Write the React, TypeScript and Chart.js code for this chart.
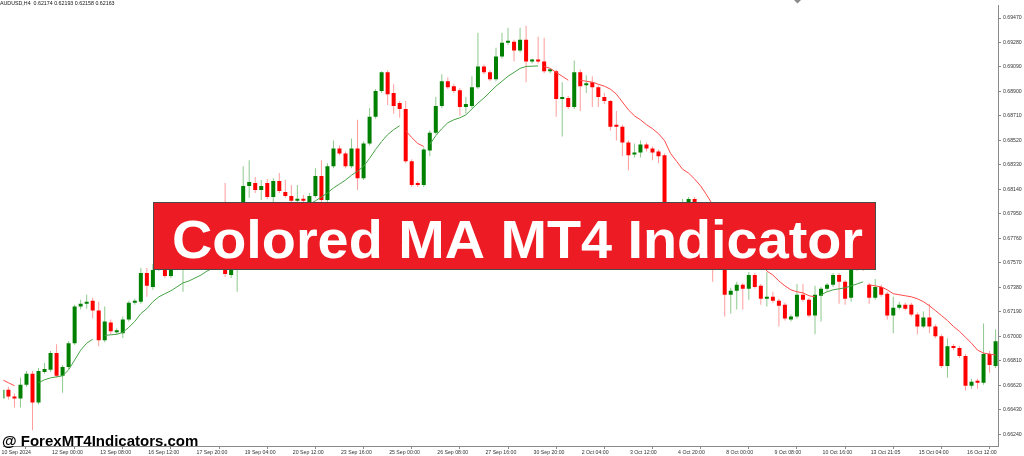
import React, { useEffect, useRef } from "react";
import { Chart, registerables } from "chart.js";

Chart.register(...registerables);

const N = null;

const opens = [
  0.66516,0.66585,0.66532,0.66516,0.66624,0.66708,0.66486,0.66723,0.66739,0.66869,
  0.66693,0.66762,0.66946,0.67230,0.67253,0.67276,0.67199,0.66969,0.67107,0.67030,
  0.67023,0.67130,0.67260,0.67268,0.67491,0.67383,0.67514,0.67590,0.67468,0.67606,
  0.67560,0.67729,0.67759,0.67698,0.67790,0.67836,0.67744,0.67821,0.67475,0.67613,
  0.67729,0.68166,0.68189,0.68135,0.68189,0.68081,0.68204,0.68120,0.68089,0.68051,
  0.68066,0.68005,0.68089,0.68243,0.68058,0.68319,0.68457,0.68419,0.68319,0.68457,
  0.68227,0.68496,0.68703,0.68903,0.69048,0.68887,0.68810,0.68764,0.68358,0.68189,
  0.68174,0.68442,0.68580,0.68787,0.68979,0.68941,0.68910,0.68780,0.68787,0.68933,
  0.69094,0.69048,0.68995,0.69171,0.69278,0.69286,0.69217,0.69301,0.69133,0.69140,
  0.69133,0.69056,0.69056,0.68841,0.68849,0.68780,0.69048,0.68949,0.68972,0.68933,
  0.68856,0.68826,0.68634,0.68626,0.68503,0.68411,0.68427,0.68488,0.68457,0.68434,
  0.68404,0.67844,0.67920,0.67867,0.67974,0.68066,0.67920,0.67767,0.67652,0.67560,
  0.67613,0.67322,0.67353,0.67399,0.67368,0.67475,0.67391,0.67291,0.67306,0.67276,
  0.67245,0.67130,0.67153,0.67322,0.67283,0.67161,0.67314,0.67368,0.67399,0.67475,
  0.67422,0.67299,0.67560,0.67537,0.67399,0.67299,0.67383,0.67330,0.67161,0.67222,
  0.67245,0.67245,0.67168,0.67076,0.67145,0.67076,0.67000,0.66769,0.66923,0.66908,
  0.66846,0.66616,0.66654,0.66639,0.66862,0.66769,
];

const highs = [
  0.66608,0.66608,0.66555,0.66677,0.66731,0.66731,0.66754,0.66792,0.66885,0.66938,
  0.66777,0.66961,0.67245,0.67283,0.67322,0.67299,0.67268,0.67230,0.67130,0.67061,
  0.67153,0.67276,0.67291,0.67529,0.67529,0.67560,0.67613,0.67637,0.67652,0.67667,
  0.67759,0.67805,0.67790,0.67821,0.67882,0.67867,0.67851,0.68189,0.67652,0.67759,
  0.68319,0.68365,0.68235,0.68212,0.68220,0.68227,0.68266,0.68212,0.68174,0.68174,
  0.68097,0.68112,0.68304,0.68365,0.68342,0.68519,0.68481,0.68434,0.68534,0.68680,
  0.68511,0.68772,0.68918,0.69056,0.69064,0.68956,0.68826,0.68826,0.68373,0.68204,
  0.68465,0.68596,0.68856,0.69033,0.69010,0.68956,0.68926,0.68856,0.69018,0.69355,
  0.69110,0.69064,0.69240,0.69355,0.69394,0.69301,0.69394,0.69409,0.69156,0.69325,
  0.69317,0.69079,0.69071,0.68972,0.68864,0.69140,0.69071,0.69025,0.69018,0.68949,
  0.68887,0.68833,0.68749,0.68642,0.68519,0.68496,0.68519,0.68503,0.68473,0.68450,
  0.68419,0.67974,0.67943,0.68066,0.68081,0.68081,0.67943,0.67805,0.67690,0.67652,
  0.67637,0.67376,0.67422,0.67414,0.67498,0.67491,0.67406,0.67498,0.67345,0.67291,
  0.67260,0.67168,0.67406,0.67406,0.67299,0.67391,0.67383,0.67414,0.67491,0.67491,
  0.67437,0.67590,0.67606,0.67560,0.67414,0.67445,0.67399,0.67345,0.67306,0.67268,
  0.67260,0.67260,0.67184,0.67191,0.67253,0.67092,0.67015,0.66984,0.66938,0.66923,
  0.66862,0.66670,0.66670,0.67099,0.66885,0.67053,
];

const lows = [
  0.66501,0.66508,0.66447,0.66447,0.66608,0.66271,0.66470,0.66708,0.66723,0.66677,
  0.66562,0.66746,0.66931,0.67207,0.67214,0.67138,0.66923,0.66954,0.67015,0.67015,
  0.66984,0.67115,0.67245,0.67253,0.67306,0.67360,0.67506,0.67452,0.67452,0.67529,
  0.67345,0.67683,0.67652,0.67667,0.67759,0.67713,0.67729,0.67460,0.67452,0.67345,
  0.67698,0.68074,0.68112,0.68058,0.68066,0.68020,0.68112,0.68074,0.68035,0.68035,
  0.68028,0.67974,0.68074,0.68020,0.68043,0.68304,0.68404,0.68304,0.68304,0.68135,
  0.68212,0.68481,0.68688,0.68887,0.68795,0.68726,0.68695,0.68342,0.68158,0.68158,
  0.68158,0.68396,0.68565,0.68772,0.68918,0.68887,0.68711,0.68726,0.68772,0.68918,
  0.69033,0.68979,0.68979,0.69156,0.69263,0.69133,0.69202,0.68972,0.69117,0.69117,
  0.69041,0.69041,0.68703,0.68550,0.68764,0.68764,0.68749,0.68887,0.68780,0.68780,
  0.68803,0.68596,0.68519,0.68396,0.68289,0.68388,0.68388,0.68434,0.68365,0.68342,
  0.67790,0.67805,0.67821,0.67836,0.67943,0.67882,0.67729,0.67590,0.67422,0.67514,
  0.67153,0.67176,0.67207,0.67207,0.67283,0.67368,0.67245,0.67230,0.67260,0.67076,
  0.67122,0.67115,0.67138,0.67268,0.67145,0.67015,0.67115,0.67353,0.67383,0.67253,
  0.67245,0.67268,0.67506,0.67506,0.67253,0.67283,0.67306,0.67130,0.67023,0.67207,
  0.67199,0.67153,0.67015,0.67061,0.67023,0.66984,0.66754,0.66677,0.66892,0.66831,
  0.66578,0.66593,0.66593,0.66624,0.66716,0.66754,
];

const closes = [
  0.66585,0.66532,0.66516,0.66624,0.66708,0.66486,0.66731,0.66746,0.66869,0.66693,
  0.66762,0.66946,0.67230,0.67253,0.67268,0.67199,0.66969,0.67115,0.67038,0.67046,
  0.67130,0.67260,0.67268,0.67491,0.67391,0.67514,0.67590,0.67468,0.67606,0.67560,
  0.67729,0.67759,0.67698,0.67790,0.67836,0.67744,0.67821,0.67483,0.67613,0.67729,
  0.68166,0.68197,0.68135,0.68166,0.68081,0.68204,0.68128,0.68089,0.68051,0.68066,
  0.68051,0.68089,0.68243,0.68058,0.68319,0.68457,0.68419,0.68319,0.68457,0.68227,
  0.68496,0.68703,0.68903,0.69048,0.68879,0.68787,0.68764,0.68358,0.68174,0.68174,
  0.68450,0.68580,0.68787,0.68979,0.68933,0.68903,0.68780,0.68803,0.68933,0.69094,
  0.69048,0.68995,0.69171,0.69278,0.69286,0.69217,0.69301,0.69133,0.69140,0.69133,
  0.69056,0.69064,0.68841,0.68849,0.68780,0.69048,0.68941,0.68964,0.68933,0.68856,
  0.68826,0.68626,0.68626,0.68503,0.68404,0.68427,0.68488,0.68457,0.68427,0.68396,
  0.67844,0.67920,0.67867,0.67974,0.68066,0.67920,0.67767,0.67652,0.67560,0.67613,
  0.67322,0.67353,0.67399,0.67368,0.67475,0.67383,0.67291,0.67306,0.67276,0.67237,
  0.67138,0.67153,0.67322,0.67283,0.67161,0.67322,0.67368,0.67399,0.67475,0.67422,
  0.67291,0.67560,0.67537,0.67514,0.67299,0.67383,0.67322,0.67161,0.67222,0.67245,
  0.67214,0.67168,0.67076,0.67145,0.67076,0.67000,0.66769,0.66923,0.66908,0.66846,
  0.66616,0.66647,0.66639,0.66862,0.66777,0.66961,
];

// Colored MA: rising part (green) and falling part (red)
const maUp = [
  N,N,N,N,N,N,0.66639,0.66662,0.66677,0.66685,
  0.66693,0.66739,0.66815,0.66892,0.66946,0.66977,N,0.67007,0.67011,0.67015,
  0.67030,0.67069,0.67115,0.67176,0.67214,0.67268,0.67306,0.67330,0.67353,0.67383,
  0.67414,0.67429,0.67452,0.67475,0.67506,0.67529,0.67560,0.67590,0.67621,0.67652,
  0.67690,0.67729,0.67775,0.67821,0.67867,0.67905,0.67943,0.67974,0.67997,0.68012,
  0.68020,0.68024,0.68051,0.68081,0.68112,0.68151,0.68181,0.68212,0.68250,0.68281,
  0.68319,0.68381,0.68450,0.68511,0.68565,0.68603,0.68634,N,N,N,
  N,0.68488,0.68557,0.68611,0.68657,0.68680,0.68695,0.68718,0.68764,0.68810,
  0.68849,0.68895,0.68941,0.68979,0.69018,0.69048,0.69079,0.69094,0.69096,0.69098,
  N,N,N,N,N,N,N,N,N,N,
  N,N,N,N,N,N,N,N,N,N,
  N,N,N,N,N,N,N,N,N,N,
  N,N,N,N,N,N,N,N,N,N,
  N,N,N,N,N,N,0.67322,0.67345,0.67360,0.67368,
  0.67376,0.67391,0.67406,0.67422,N,N,N,N,N,N,
  N,N,N,N,N,N,N,N,N,N,
  N,N,N,N,N,N,
];

const maDown = [
  0.66662,0.66639,0.66616,N,N,N,N,N,N,N,
  N,N,N,N,N,N,N,N,N,N,
  N,N,N,N,N,N,N,N,N,N,
  N,N,N,N,N,N,N,N,N,N,
  N,N,N,N,N,N,N,N,N,N,
  N,N,N,N,N,N,N,N,N,N,
  N,N,N,N,N,N,N,0.68596,0.68542,0.68496,
  0.68473,N,N,N,N,N,N,N,N,N,
  N,N,N,N,N,N,N,N,N,N,
  0.69094,0.69079,0.69048,0.69018,0.68987,N,0.68987,0.68979,0.68972,0.68956,
  0.68941,0.68918,0.68879,0.68818,0.68757,0.68711,0.68680,0.68642,0.68611,0.68572,
  0.68519,0.68419,0.68358,0.68296,0.68266,0.68220,0.68166,0.68097,0.68020,0.67966,
  0.67913,0.67859,0.67805,0.67752,0.67690,0.67629,0.67567,0.67506,0.67475,0.67429,
  0.67391,0.67360,0.67345,0.67337,0.67314,0.67306,N,N,N,N,
  N,N,N,N,0.67399,0.67391,0.67383,0.67360,0.67330,0.67322,
  0.67314,0.67306,0.67291,0.67268,0.67237,0.67199,0.67161,0.67122,0.67076,0.67038,
  0.66992,0.66946,0.66892,0.66869,0.66862,0.66854,
];

const yTicks = [
  0.66240,0.66430,0.66620,0.66810,0.67000,0.67190,0.67380,0.67570,0.67760,
  0.67950,0.68140,0.68330,0.68520,0.68710,0.68900,0.69090,0.69280,0.69470,
];

const xTickBars = [-0.4,8,16,24,32,40,48,56,64,72,80,88,96,104,112,120,128,136,144,152,160];
const xTickLabels = [
  "10 Sep 2024","12 Sep 00:00","13 Sep 08:00","16 Sep 12:00","17 Sep 20:00",
  "19 Sep 04:00","20 Sep 12:00","23 Sep 16:00","25 Sep 00:00","26 Sep 08:00",
  "27 Sep 16:00","30 Sep 20:00","2 Oct 04:00","3 Oct 12:00","4 Oct 20:00",
  "8 Oct 00:00","9 Oct 08:00","10 Oct 16:00","13 Oct 21:05","15 Oct 04:00","16 Oct 12:00",
];

const headerText = "AUDUSD,H4  0.62174 0.62193 0.62158 0.62163";
const bannerText = "Colored MA MT4 Indicator";
const watermarkText = "@ ForexMT4Indicators.com";

const FAMILY = '"Liberation Sans", Arial, sans-serif';
const BULL = "#008000";
const BEAR = "#ff0000";
const BULL_WICK = "#8ec98e";
const BEAR_WICK = "#ff9c9c";
const MA_UP = "#46a346";
const MA_DOWN = "#ff4a4a";
const AXIS = "#8a8a8a";

export default function App() {
  const ref = useRef<HTMLCanvasElement>(null);

  useEffect(() => {
    const canvas = ref.current;
    if (!canvas) return;
    const idx = opens.map((_, i) => i);
    const bull = (i: number) => closes[i] >= opens[i];

    const overlay = {
      id: "overlay",
      afterDraw(chart: any) {
        const ctx = chart.ctx as CanvasRenderingContext2D;
        ctx.save();
        ctx.fillStyle = "#111";
        ctx.font = `5.3px ${FAMILY}`;
        ctx.textAlign = "left";
        ctx.textBaseline = "middle";
        ctx.fillText(headerText, 0, 4);

        ctx.fillStyle = "#8a8a8a";
        ctx.beginPath();
        ctx.moveTo(794, 0);
        ctx.lineTo(801, 0);
        ctx.lineTo(797.5, 3.5);
        ctx.closePath();
        ctx.fill();

        ctx.fillStyle = "#ED1C24";
        ctx.fillRect(153, 202, 723, 68);
        ctx.strokeStyle = "#4a4a4a";
        ctx.lineWidth = 1;
        ctx.strokeRect(153.5, 202.5, 722, 67);

        ctx.font = `bold 54px ${FAMILY}`;
        const w = ctx.measureText(bannerText).width;
        ctx.translate(517.5, 258);
        ctx.scale(691 / w, 1);
        ctx.textAlign = "center";
        ctx.textBaseline = "alphabetic";
        ctx.fillStyle = "#ffffff";
        ctx.fillText(bannerText, 0, 0);
        ctx.restore();

        ctx.save();
        ctx.font = `bold 15px ${FAMILY}`;
        ctx.fillStyle = "#000";
        ctx.textAlign = "left";
        ctx.textBaseline = "alphabetic";
        ctx.fillText(watermarkText, 2, 446);
        ctx.restore();
      },
    };

    const chart = new Chart(canvas, {
      type: "bar",
      data: {
        datasets: [
          {
            type: "line",
            data: maUp.map((v, i) => ({ x: i, y: v })),
            borderColor: MA_UP,
            borderWidth: 1,
            pointRadius: 0,
            pointHoverRadius: 0,
            spanGaps: false,
            tension: 0,
            fill: false,
            order: 0,
          },
          {
            type: "line",
            data: maDown.map((v, i) => ({ x: i, y: v })),
            borderColor: MA_DOWN,
            borderWidth: 1,
            pointRadius: 0,
            pointHoverRadius: 0,
            spanGaps: false,
            tension: 0,
            fill: false,
            order: 0,
          },
          {
            type: "bar",
            data: idx.map((i) => ({ x: i, y: [opens[i], closes[i]] })),
            backgroundColor: idx.map((i) => (bull(i) ? BULL : BEAR)),
            barThickness: 4,
            minBarLength: 2,
            grouped: false,
            inflateAmount: 0,
            borderWidth: 0,
            order: 1,
          },
          {
            type: "bar",
            data: idx.map((i) => ({ x: i, y: [lows[i], highs[i]] })),
            backgroundColor: idx.map((i) => (bull(i) ? BULL_WICK : BEAR_WICK)),
            barThickness: 1,
            grouped: false,
            inflateAmount: 0,
            borderWidth: 0,
            order: 2,
          },
        ],
      } as any,
      options: {
        responsive: false,
        animation: false,
        devicePixelRatio: 1,
        layout: { padding: 0, autoPadding: false },
        events: [],
        plugins: { legend: { display: false }, tooltip: { enabled: false } },
        scales: {
          x: {
            type: "linear",
            position: "bottom",
            min: 0.1656,
            max: 165.4,
            offset: false,
            afterBuildTicks: (s: any) => {
              s.ticks = xTickBars.map((v) => ({ value: v }));
            },
            afterFit: (s: any) => {
              s.height = 10;
            },
            grid: { drawOnChartArea: false, drawTicks: true, tickLength: 3, color: AXIS },
            border: { display: true, color: AXIS, width: 1 },
            ticks: {
              autoSkip: false,
              maxRotation: 0,
              minRotation: 0,
              align: "start",
              padding: 0,
              labelOffset: 1.5,
              color: "#333",
              font: { size: 5.2, family: FAMILY },
              callback: (_v: any, i: number) => xTickLabels[i],
            },
          },
          y: {
            type: "linear",
            position: "right",
            min: 0.66148,
            max: 0.6957,
            afterBuildTicks: (s: any) => {
              s.ticks = yTicks.map((v) => ({ value: v }));
            },
            afterFit: (s: any) => {
              s.width = 26;
            },
            grid: { drawOnChartArea: false, drawTicks: true, tickLength: 3, color: AXIS },
            border: { display: true, color: AXIS, width: 1 },
            ticks: {
              padding: 2,
              color: "#333",
              font: { size: 5.2, family: FAMILY },
              callback: (v: any) => Number(v).toFixed(5),
            },
          },
        },
      } as any,
      plugins: [overlay],
    });

    return () => chart.destroy();
  }, []);

  return (
    <div
      style={{
        position: "fixed",
        left: 0,
        top: 0,
        width: 1024,
        height: 456,
        background: "#ffffff",
        overflow: "hidden",
      }}
    >
      <canvas ref={ref} width={1024} height={456} style={{ display: "block" }} />
    </div>
  );
}
